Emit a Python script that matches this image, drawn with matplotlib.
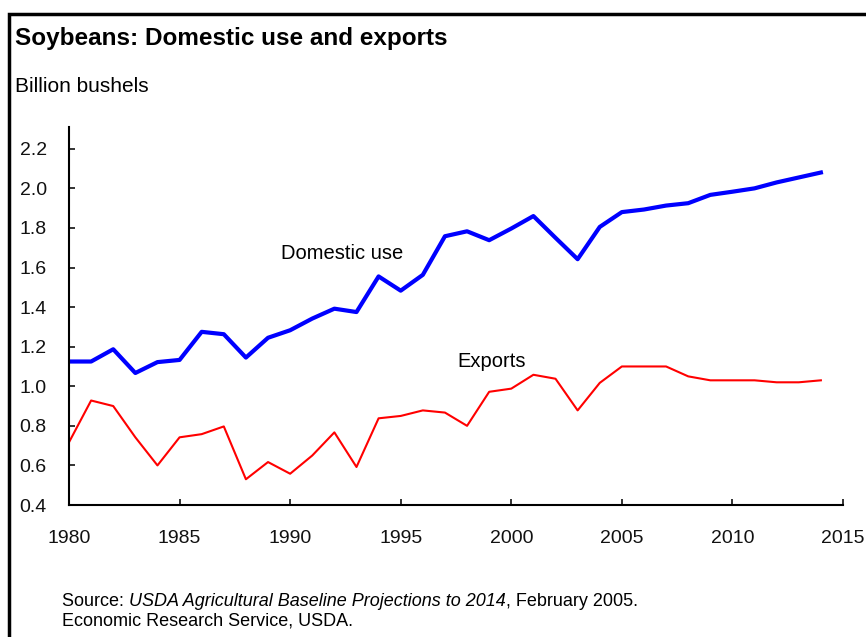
from matplotlib import pyplot as plt
from matplotlib.patches import Rectangle
import numpy as np

years = list(range(1980, 2015))

# billion bushels
domestic_use = [1.125, 1.125, 1.187, 1.067, 1.122, 1.133, 1.275, 1.263, 1.145, 1.245,
                1.283, 1.342, 1.392, 1.375, 1.555, 1.483, 1.563, 1.758, 1.783, 1.738,
                1.797, 1.860, 1.750, 1.642, 1.805, 1.880, 1.893, 1.913, 1.925, 1.967,
                1.983, 2.000, 2.030, 2.055, 2.080]
exports = [0.717, 0.928, 0.900, 0.742, 0.600, 0.742, 0.758, 0.797, 0.530, 0.617,
           0.558, 0.650, 0.767, 0.592, 0.838, 0.850, 0.878, 0.867, 0.800, 0.972,
           0.988, 1.058, 1.038, 0.878, 1.017, 1.100, 1.100, 1.100, 1.050, 1.030,
           1.030, 1.030, 1.020, 1.020, 1.030]

yticks = [0.4, 0.6, 0.8, 1.0, 1.2, 1.4, 1.6, 1.8, 2.0, 2.2]
xticks = [1980, 1985, 1990, 1995, 2000, 2005, 2010, 2015]

W, H = 866, 637
fig = plt.figure(figsize=(W / 100, H / 100), dpi=100)
plt.rcParams['font.family'] = ['Liberation Sans', 'DejaVu Sans']

def fx(px):
    return px / W

def fy(py):
    return 1 - py / H

# outer frame (only left and top visible in the original)
fig.patches.append(Rectangle((fx(9), fy(700)), 2.0, fy(14) - fy(700),
                             transform=fig.transFigure, fill=False,
                             edgecolor='black', linewidth=2.5))

ax = fig.add_axes([fx(69), fy(505), fx(843) - fx(69), fy(127) - fy(505)])
ax.plot(years, domestic_use, color='#0000ff', linewidth=3.0, solid_joinstyle='round')
ax.plot(years, exports, color='#ff0000', linewidth=1.5)

ax.set_xlim(1980, 2015)
ax.set_ylim(0.4, 2.31)
ax.set_xticks(xticks)
ax.set_yticks(yticks)
ax.set_yticklabels([f'{v:.1f}' for v in yticks])
for s in ['top', 'right']:
    ax.spines[s].set_visible(False)
for s in ['left', 'bottom']:
    ax.spines[s].set_linewidth(1.5)
ax.tick_params(direction='in', length=4, width=1.2, labelsize=14, colors='#111111')
ax.tick_params(axis='y', pad=16)
ax.tick_params(axis='x', pad=18)

ax.text(1989.6, 1.67, 'Domestic use', fontsize=14.5, va='center')
ax.text(1997.55, 1.125, 'Exports', fontsize=14.5, va='center')

fig.text(fx(15), fy(38), 'Soybeans: Domestic use and exports', fontsize=17.5,
         fontweight='bold', va='center')
fig.text(fx(15), fy(86), 'Billion bushels', fontsize=15, va='center')

t1 = fig.text(fx(62), fy(601), 'Source: ', fontsize=13, va='center')
t2 = fig.text(0, 0, 'USDA Agricultural Baseline Projections to 2014', fontsize=13,
              style='italic', va='center')
t3 = fig.text(0, 0, ', February 2005.', fontsize=13, va='center')
fig.text(fx(62), fy(621), 'Economic Research Service, USDA.', fontsize=13, va='center')

fig.canvas.draw()
r = fig.canvas.get_renderer()
b1 = t1.get_window_extent(r)
t2.set_position((b1.x1 / W, fy(601)))
b2 = t2.get_window_extent(r)
t3.set_position((b2.x1 / W, fy(601)))

fig.savefig('out.png', dpi=100)
